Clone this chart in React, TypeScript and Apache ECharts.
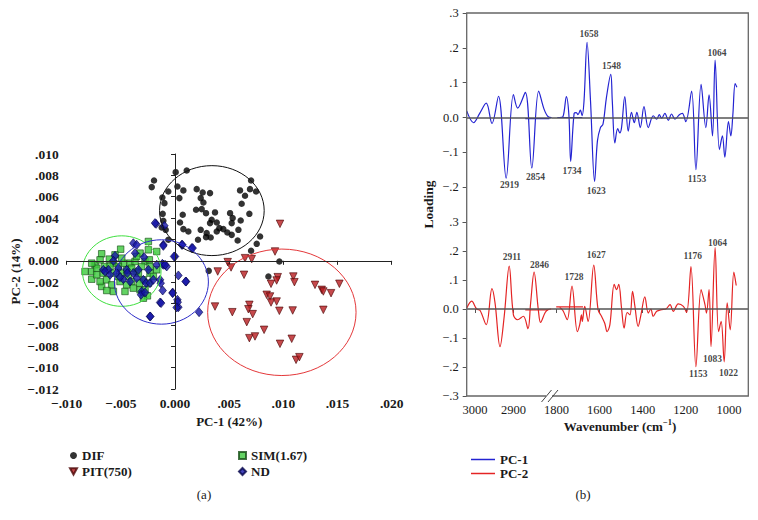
import React, { useEffect, useRef } from 'react';
import * as echarts from 'echarts';

// ---------- Panel (a): PCA scores ----------
const DIF: number[][] = [
  [-0.00215,0.00690],[-0.00194,0.00752],[-0.00117,0.00593],[-0.00098,0.00540],[-0.00062,0.00649],
  [-0.00114,0.00440],[-0.00108,0.00375],[-0.00123,0.00312],[-0.00086,0.00290],[-0.00062,0.00197],
  [0.00006,0.00830],[0.00108,0.00846],[0.00022,0.00696],[0.00077,0.00659],[0.00040,0.00587],
  [0.00200,0.00671],[0.00255,0.00640],[0.00323,0.00634],[0.00237,0.00587],[0.00262,0.00546],
  [0.00194,0.00478],[0.00246,0.00484],[0.00286,0.00446],[0.00369,0.00453],[0.00338,0.00384],
  [0.00323,0.00353],[0.00385,0.00359],[0.00409,0.00306],[0.00446,0.00297],[0.00508,0.00446],
  [0.00532,0.00400],[0.00523,0.00353],[0.00606,0.00378],[0.00600,0.00659],[0.00646,0.00609],
  [0.00692,0.00671],[0.00702,0.00752],[0.00748,0.00649],[0.00615,0.00534],[0.00686,0.00440],
  [0.00585,0.00290],[0.00483,0.00265],[0.00523,0.00243],[0.00578,0.00190],[0.00385,0.00275],
  [0.00292,0.00259],[0.00237,0.00290],[0.00286,0.00222],[0.00071,0.00431],[0.00046,0.00359],
  [0.00077,0.00297],[0.00123,0.00275],[0.00212,0.00197],[0.00329,0.00218],[0.00785,0.00228],
  [0.00754,0.00159],[0.00702,0.00094],[0.00311,-0.00094],[0.00862,-0.00147],[0.00963,-0.00006],
];
const PIT: number[][] = [
  [0.00969,0.00346],[0.00923,0.00087],[0.00646,0.00025],[0.00708,0.00016],[0.00486,-0.00012],
  [0.00517,-0.00062],[0.00394,-0.00100],[0.00637,-0.00131],[0.00948,-0.00153],[0.01092,-0.00147],
  [0.01102,-0.00200],[0.00886,-0.00215],[0.00938,-0.00184],[0.00846,-0.00318],[0.00877,-0.00334],
  [0.00886,-0.00390],[0.00938,-0.00381],[0.00963,-0.00468],[0.01086,-0.00465],[0.01292,-0.00225],
  [0.01354,-0.00272],[0.01369,-0.00287],[0.01440,-0.00303],[0.01517,-0.00215],[0.01369,-0.00459],
  [0.00686,-0.00412],[0.00677,-0.00453],[0.00717,-0.00499],[0.00662,-0.00574],[0.00369,-0.00428],
  [0.00529,-0.00481],[0.00822,-0.00646],[0.00686,-0.00724],[0.00738,-0.00708],[0.00969,-0.00777],
  [0.01077,-0.00730],[0.01117,-0.00927],[0.01148,-0.00902],
];
const SIM: number[][] = [
  [-0.00246,0.00181],[-0.00323,0.00072],[-0.00246,0.00103],[-0.00169,0.00087],[-0.00502,0.00109],
  [-0.00554,0.00056],[-0.00677,0.00066],[-0.00606,0.00016],[-0.00569,-0.00022],[-0.00738,-0.00037],
  [-0.00769,-0.00100],[-0.00831,-0.00100],[-0.00769,-0.00172],[-0.00723,-0.00131],[-0.00662,-0.00115],
  [-0.00631,-0.00178],[-0.00677,-0.00240],[-0.00585,-0.00225],[-0.00569,-0.00287],[-0.00508,-0.00194],
  [-0.00492,-0.00115],[-0.00446,-0.00084],[-0.00415,-0.00022],[-0.00369,-0.00006],[-0.00277,-0.00006],
  [-0.00237,0.00009],[-0.00308,-0.00053],[-0.00360,-0.00100],[-0.00431,-0.00147],[-0.00400,-0.00194],
  [-0.00338,-0.00115],[-0.00292,-0.00178],[-0.00231,-0.00115],[-0.00169,-0.00084],[-0.00200,-0.00147],
  [-0.00246,-0.00209],[-0.00329,-0.00209],[-0.00323,-0.00272],[-0.00277,-0.00272],[-0.00255,-0.00328],
  [-0.00292,-0.00350],[-0.00462,-0.00287],[-0.00631,-0.00278],[-0.00692,-0.00194],[-0.00477,-0.00022],
  [-0.00523,-0.00053],[-0.00723,-0.00069],[-0.00652,-0.00053],[-0.00569,-0.00115],[-0.00446,-0.00225],
  [-0.00385,-0.00256],[-0.00231,-0.00053],[-0.00600,-0.00053],[-0.00692,0.00009],[-0.00354,0.00041],
  [-0.00492,0.00025],[-0.00769,-0.00022],[-0.00400,-0.00069],[-0.00523,-0.00147],
];
const ND: number[][] = [
  [-0.00175,0.00346],[-0.00108,0.00150],[0.00000,0.00041],[0.00062,0.00150],[0.00154,0.00119],
  [-0.00385,0.00165],[-0.00369,0.00072],[-0.00554,0.00047],[-0.00569,0.00000],[-0.00662,-0.00084],
  [-0.00615,-0.00084],[-0.00523,-0.00069],[-0.00446,-0.00084],[-0.00385,-0.00115],[-0.00477,-0.00172],
  [-0.00415,-0.00194],[-0.00354,-0.00162],[-0.00292,-0.00178],[-0.00268,-0.00209],[-0.00308,-0.00287],
  [-0.00231,-0.00209],[-0.00200,-0.00178],[-0.00138,-0.00178],[-0.00108,-0.00037],[-0.00077,-0.00053],
  [-0.00114,-0.00278],[-0.00022,-0.00297],[0.00022,-0.00365],[0.00031,-0.00434],[0.00102,-0.00194],
  [-0.00231,-0.00521],[-0.00138,-0.00390],[-0.00314,-0.00318],[-0.00277,-0.00297],[-0.00440,-0.00115],
  [-0.00538,-0.00115],[-0.00646,-0.00100],[-0.00600,-0.00131],[-0.00508,-0.00153],[-0.00338,-0.00084],
  [-0.00169,-0.00037],[-0.00246,-0.00084],[-0.00185,0.00353],[-0.00098,0.00328],[-0.00108,0.00140],
  [-0.00009,0.00041],[0.00068,0.00150],[0.00163,0.00119],[0.00031,-0.00137],[0.00098,-0.00194],
  [-0.00132,-0.00209],[-0.00022,-0.00303],[0.00025,-0.00387],[0.00015,-0.00437],[-0.00129,-0.00396],
  [-0.00228,-0.00521],[0.00222,-0.00481],[-0.00117,-0.00028],[-0.00092,-0.00037],[-0.00354,0.00150],
  [-0.00286,0.00034],
];
// confidence ellipses: [centre x, centre y, radius x, radius y]
const ELLIPSES: number[][] = [
  [0.0034, 0.0047, 0.00483, 0.00421],
  [0.00986, -0.00482, 0.00685, 0.00592],
  [-0.00492, -0.00096, 0.00363, 0.0033],
  [-0.00126, -0.00198, 0.00434, 0.00395],
];
const ELLIPSE_COLORS = ['#111111', '#e4383a', '#3fe03f', '#2b2bc8'];

// ---------- Panel (b): loadings [wavenumber, loading] ----------
const PC1_LEFT: number[][] = [
  [3022,0.019],[3004,-0.015],[2988,0.012],[2971,0.041],[2956,-0.017],[2939,0.061],[2919,-0.174],
  [2900,0.066],[2889,0.027],[2869,0.072],[2852,-0.145],[2834,0.076],[2820,0.024],[2809,0.002],[2800,0],
];
const PC1_RIGHT: number[][] = [
  [1785,0],[1770,0.002],[1754,0.060],[1742,0.005],[1734,-0.126],[1718,0.012],[1708,0.014],[1700,0.008],
  [1689,0.021],[1681,0.005],[1672,0.048],[1658,0.216],[1642,0.048],[1623,-0.184],[1610,-0.068],
  [1596,-0.029],[1584,-0.019],[1568,0.058],[1548,0.124],[1541,0.048],[1529,-0.073],[1516,-0.032],
  [1506,-0.044],[1498,-0.029],[1483,0.060],[1467,-0.039],[1452,0.015],[1439,-0.015],[1427,0.015],
  [1411,-0.029],[1394,0.031],[1374,-0.029],[1351,0.005],[1335,-0.005],[1323,0.008],[1312,-0.002],
  [1297,0.012],[1281,-0.008],[1266,0.010],[1250,-0.005],[1230,0.008],[1216,0.012],[1200,-0.012],
  [1173,0.076],[1153,-0.150],[1129,0.095],[1107,-0.029],[1092,0.065],[1076,-0.053],[1064,0.165],
  [1044,-0.092],[1030,-0.053],[1019,-0.114],[1002,-0.012],[991,-0.053],[982,0.005],[971,0.097],[963,0.087],
];
const PC1_LEFT_FLAT: number[][] = [[2869,-0.003],[2806,-0.003]];
const PC1_RIGHT_FLAT: number[][] = [[1796,0],[1680,0]];

const PC2_LEFT: number[][] = [
  [3022,0.003],[3009,0.027],[2996,0],[2987,-0.005],[2971,-0.054],[2956,0.070],[2948,0.021],
  [2935,-0.130],[2924,-0.025],[2911,0.148],[2900,-0.020],[2889,-0.037],[2874,-0.025],[2862,-0.068],
  [2855,0.021],[2846,0.127],[2835,-0.002],[2829,-0.046],[2817,-0.012],[2809,-0.002],[2800,0],
];
const PC2_RIGHT: number[][] = [
  [1785,0.005],[1770,-0.005],[1750,-0.037],[1728,0.079],[1703,-0.078],[1692,-0.054],[1684,-0.020],
  [1680,-0.043],[1669,0.009],[1653,-0.043],[1627,0.151],[1607,-0.002],[1591,-0.025],[1576,-0.049],
  [1565,-0.078],[1552,-0.054],[1532,0.085],[1521,0.067],[1511,0.085],[1498,0.003],[1486,-0.066],
  [1472,-0.012],[1459,-0.020],[1447,0.061],[1436,0.009],[1421,-0.060],[1408,-0.020],[1390,0.042],
  [1374,-0.014],[1362,0],[1351,-0.025],[1335,-0.008],[1312,-0.002],[1292,0],[1273,0.015],
  [1258,-0.008],[1235,0.018],[1211,0.009],[1196,-0.012],[1176,0.146],[1153,-0.199],[1129,0.067],
  [1111,0.015],[1104,-0.014],[1092,0.067],[1083,-0.130],[1064,0.212],[1048,-0.078],[1036,-0.043],
  [1022,-0.182],[1008,0.021],[994,-0.072],[977,0.127],[966,0.081],
];
const PC2_LEFT_FLAT: number[][] = [[2869,-0.003],[2809,-0.003]];
const PC2_RIGHT_FLAT: number[][] = [[1801,0.007],[1677,0.007]];

// peak annotations: [text, wavenumber, loading]
const PC1_ANN_LEFT: (string | number)[][] = [['2919',2910,-0.194],['2854',2842,-0.170]];
const PC1_ANN_RIGHT: (string | number)[][] = [
  ['1658',1649,0.240],['1548',1545,0.147],['1064',1055,0.184],['1734',1728,-0.155],['1623',1615,-0.210],['1153',1148,-0.177],
];
const PC2_ANN_LEFT: (string | number)[][] = [['2911',2904,0.181],['2846',2832,0.152]];
const PC2_ANN_RIGHT: (string | number)[][] = [
  ['1728',1718,0.111],['1627',1615,0.185],['1176',1168,0.183],['1064',1053,0.229],['1083',1076,-0.171],['1153',1142,-0.225],['1022',1002,-0.220],
];

const LEFT_TICKS = [3000, 2900];
const RIGHT_TICKS = [1800, 1600, 1400, 1200, 1000];

const FONT = '"Liberation Serif", "Times New Roman", serif';
const BLUE = '#2323d2';
const RED = '#e42424';

const fmtA = (v: number) => {
  const r = Math.round(v * 1000) / 1000;
  if (Math.abs(r) < 1e-9) return '0.000';
  return (r < 0 ? '\u2212' : '') + Math.abs(r).toFixed(3).replace(/^0/, '');
};
const fmtB = (hideMin: boolean) => (v: number) => {
  const r = Math.round(v * 10) / 10;
  if (hideMin && r <= -0.3) return '';
  if (Math.abs(r) < 1e-9) return '0.0';
  return (r < 0 ? '\u2212' : '') + Math.abs(r).toFixed(1).replace(/^0/, '');
};
const fmtWn = (v: number) => String(Math.round(v));

function buildOption(): any {
  const annSeries = (data: (string | number)[][], idx: number) => ({
    type: 'scatter',
    xAxisIndex: idx,
    yAxisIndex: idx,
    symbolSize: 1,
    itemStyle: { color: 'transparent' },
    silent: true,
    z: 5,
    data: data.map((d) => ({ name: d[0], value: [d[1], d[2]] })),
    label: {
      show: true,
      position: 'inside',
      formatter: (p: any) => p.name,
      fontFamily: FONT,
      fontSize: 9.5,
      fontWeight: 'bold',
      color: '#111',
    },
  });
  const zeroLine = {
    silent: true,
    symbol: 'none',
    label: { show: false },
    lineStyle: { color: '#555', width: 1.5, type: 'solid' },
    data: [{ yAxis: 0 }],
  };
  const lineSeries = (name: string, data: number[][], idx: number, color: string, withZero: boolean) => ({
    type: 'line',
    name,
    xAxisIndex: idx,
    yAxisIndex: idx,
    data,
    smooth: 0.35,
    symbol: 'none',
    showSymbol: false,
    clip: true,
    lineStyle: { color, width: 1.2 },
    itemStyle: { color },
    z: 3,
    ...(withZero ? { markLine: zeroLine } : {}),
  });

  const hiddenAxis = {
    axisLine: { show: false },
    axisTick: { show: false },
    axisLabel: { show: false },
    splitLine: { show: false },
  };

  const scatterStyle = (color: string, border: string) => ({ color, borderColor: border, borderWidth: 0.8 });

  return {
    animation: false,
    textStyle: { fontFamily: FONT },
    grid: [
      { left: 66.7, top: 154, width: 325, height: 235 },
      { left: 466.7, top: 13, width: 85, height: 209 },
      { left: 551.7, top: 13, width: 196.6, height: 209 },
      { left: 466.7, top: 222, width: 85, height: 174 },
      { left: 551.7, top: 222, width: 196.6, height: 174 },
    ],
    xAxis: [
      {
        gridIndex: 0, type: 'value', min: -0.01, max: 0.02, interval: 0.005,
        axisLine: { show: true, lineStyle: { color: '#222', width: 1 } },
        axisTick: { show: true, inside: false, length: 4, lineStyle: { color: '#222' } },
        axisLabel: { formatter: fmtA, fontFamily: FONT, fontSize: 13.5, fontWeight: 'bold', color: '#1a1a1a', margin: 7 },
        splitLine: { show: false },
        name: 'PC-1 (42%)', nameLocation: 'middle', nameGap: 26,
        nameTextStyle: { fontFamily: FONT, fontSize: 13, fontWeight: 'bold', color: '#1a1a1a' },
      },
      { gridIndex: 1, type: 'value', inverse: true, min: 2800, max: 3022, ...hiddenAxis },
      { gridIndex: 2, type: 'value', inverse: true, min: 910, max: 1822, ...hiddenAxis },
      {
        gridIndex: 3, type: 'value', inverse: true, min: 2800, max: 3022,
        axisLine: { show: false },
        axisTick: { show: true, length: 4, customValues: LEFT_TICKS, lineStyle: { color: '#555' } },
        axisLabel: { customValues: LEFT_TICKS, formatter: fmtWn, fontFamily: FONT, fontSize: 12.5, color: '#1a1a1a', margin: 7 },
        splitLine: { show: false },
      },
      {
        gridIndex: 4, type: 'value', inverse: true, min: 910, max: 1822,
        axisLine: { show: false },
        axisTick: { show: true, length: 4, customValues: RIGHT_TICKS, lineStyle: { color: '#555' } },
        axisLabel: { customValues: RIGHT_TICKS, formatter: fmtWn, fontFamily: FONT, fontSize: 12.5, color: '#1a1a1a', margin: 7 },
        splitLine: { show: false },
      },
    ],
    yAxis: [
      {
        gridIndex: 0, type: 'value', min: -0.012, max: 0.01, interval: 0.002,
        axisLine: { show: true, lineStyle: { color: '#222', width: 1 } },
        axisTick: { show: true, inside: false, length: 4, lineStyle: { color: '#222' } },
        axisLabel: { formatter: fmtA, fontFamily: FONT, fontSize: 13.5, fontWeight: 'bold', color: '#1a1a1a', margin: 8 },
        splitLine: { show: false },
        name: 'PC-2 (14%)', nameLocation: 'middle', nameGap: 45,
        nameTextStyle: { fontFamily: FONT, fontSize: 13, fontWeight: 'bold', color: '#1a1a1a' },
      },
      {
        gridIndex: 1, type: 'value', min: -0.3, max: 0.3, interval: 0.1,
        axisLine: { show: false },
        axisTick: { show: true, length: 4, lineStyle: { color: '#555' } },
        axisLabel: { formatter: fmtB(true), fontFamily: FONT, fontSize: 12.5, color: '#1a1a1a', margin: 8 },
        splitLine: { show: false },
      },
      { gridIndex: 2, type: 'value', min: -0.3, max: 0.3, interval: 0.1, ...hiddenAxis },
      {
        gridIndex: 3, type: 'value', min: -0.3, max: 0.3, interval: 0.1,
        axisLine: { show: false },
        axisTick: { show: true, length: 4, lineStyle: { color: '#555' } },
        axisLabel: { formatter: fmtB(false), fontFamily: FONT, fontSize: 12.5, color: '#1a1a1a', margin: 8 },
        splitLine: { show: false },
      },
      { gridIndex: 4, type: 'value', min: -0.3, max: 0.3, interval: 0.1, ...hiddenAxis },
    ],
    legend: [
      {
        data: ['DIF', { name: 'PIT(750)', icon: 'path://M0,0L10,0L5,9Z' }],
        orient: 'vertical', left: 64, top: 444, itemWidth: 7, itemHeight: 7, itemGap: 3,
        textStyle: { fontFamily: FONT, fontSize: 13, fontWeight: 'bold', color: '#1a1a1a' },
        selectedMode: false,
      },
      {
        data: ['SIM(1.67)', 'ND'],
        orient: 'vertical', left: 233, top: 444, itemWidth: 7, itemHeight: 7, itemGap: 3,
        textStyle: { fontFamily: FONT, fontSize: 13, fontWeight: 'bold', color: '#1a1a1a' },
        selectedMode: false,
      },
      {
        data: [{ name: 'PC-1', icon: 'rect' }, { name: 'PC-2', icon: 'rect' }],
        orient: 'vertical', left: 466, top: 448, itemWidth: 24, itemHeight: 1.5, itemGap: 1,
        textStyle: { fontFamily: FONT, fontSize: 13, fontWeight: 'bold', color: '#1a1a1a' },
        selectedMode: false,
      },
    ],
    series: [
      {
        type: 'custom',
        name: 'ellipses',
        xAxisIndex: 0,
        yAxisIndex: 0,
        data: ELLIPSES,
        encode: { x: 0, y: 1 },
        silent: true,
        z: 4,
        renderItem: (params: any, api: any) => {
          const c = api.coord([api.value(0), api.value(1)]);
          const s = api.size([api.value(2), api.value(3)]);
          return {
            type: 'ellipse',
            shape: { cx: c[0], cy: c[1], rx: s[0], ry: s[1] },
            style: { fill: 'none', stroke: ELLIPSE_COLORS[params.dataIndex], lineWidth: 1 },
          };
        },
      },
      {
        type: 'scatter', name: 'DIF', xAxisIndex: 0, yAxisIndex: 0, data: DIF,
        symbol: 'circle', symbolSize: 6.5, itemStyle: { color: '#000' }, z: 2,
        markLine: {
          silent: true, symbol: 'none', label: { show: false },
          lineStyle: { color: '#222', width: 1, type: 'solid' },
          data: [
            [{ coord: [-0.01, 0] }, { coord: [0.0189, 0] }],
            [{ coord: [0, -0.012] }, { coord: [0, 0.01] }],
          ],
        },
      },
      {
        type: 'scatter', name: 'PIT(750)', xAxisIndex: 0, yAxisIndex: 0, data: PIT,
        symbol: 'triangle', symbolRotate: 180, symbolSize: 7.5, itemStyle: scatterStyle('#b81c1f', '#4a0505'), z: 2,
      },
      {
        type: 'scatter', name: 'SIM(1.67)', xAxisIndex: 0, yAxisIndex: 0, data: SIM,
        symbol: 'rect', symbolSize: 6.5, itemStyle: scatterStyle('#3cc83c', '#174d17'), z: 2,
      },
      {
        type: 'scatter', name: 'ND', xAxisIndex: 0, yAxisIndex: 0, data: ND,
        symbol: 'diamond', symbolSize: [7.5, 9], itemStyle: scatterStyle('#1414a8', '#05054a'), z: 3,
      },
      lineSeries('PC-1', PC1_LEFT, 1, BLUE, true),
      lineSeries('PC-1', PC1_LEFT_FLAT, 1, BLUE, false),
      lineSeries('PC-1', PC1_RIGHT, 2, BLUE, true),
      lineSeries('PC-1', PC1_RIGHT_FLAT, 2, BLUE, false),
      lineSeries('PC-2', PC2_LEFT, 3, RED, true),
      lineSeries('PC-2', PC2_LEFT_FLAT, 3, RED, false),
      lineSeries('PC-2', PC2_RIGHT, 4, RED, true),
      lineSeries('PC-2', PC2_RIGHT_FLAT, 4, RED, false),
      annSeries(PC1_ANN_LEFT, 1),
      annSeries(PC1_ANN_RIGHT, 2),
      annSeries(PC2_ANN_LEFT, 3),
      annSeries(PC2_ANN_RIGHT, 4),
    ],
    graphic: [
      {
        type: 'rect', silent: true, z: 10,
        shape: { x: 466.7, y: 13, width: 281.6, height: 383 },
        style: { fill: 'none', stroke: '#666', lineWidth: 1.3 },
      },
      { type: 'rect', silent: true, z: 11, shape: { x: 546, y: 393, width: 6, height: 6 }, style: { fill: '#fff' } },
      { type: 'line', silent: true, z: 12, shape: { x1: 541.5, y1: 402, x2: 551.5, y2: 390 }, style: { stroke: '#444', lineWidth: 1 } },
      { type: 'line', silent: true, z: 12, shape: { x1: 548, y1: 402, x2: 558, y2: 390 }, style: { stroke: '#444', lineWidth: 1 } },
      {
        type: 'text', silent: true, x: 428, y: 204.5, rotation: Math.PI / 2,
        style: { text: 'Loading', fontFamily: FONT, fontSize: 13.5, fontWeight: 'bold', fill: '#1a1a1a', textAlign: 'center', textVerticalAlign: 'middle' },
      },
      {
        type: 'text', silent: true, x: 620, y: 425,
        style: {
          text: '{a|Wavenumber (cm}{s|\u22121}{a|)}',
          textAlign: 'center', textVerticalAlign: 'middle',
          rich: {
            a: { fontFamily: FONT, fontSize: 13, fontWeight: 'bold', fill: '#1a1a1a', verticalAlign: 'bottom' },
            s: { fontFamily: FONT, fontSize: 8.5, fontWeight: 'bold', fill: '#1a1a1a', verticalAlign: 'top', padding: [0, 0, 6, 0] },
          },
        },
      },
      {
        type: 'text', silent: true, x: 204, y: 494,
        style: { text: '(a)', fontFamily: FONT, fontSize: 13, fill: '#1a1a1a', textAlign: 'center', textVerticalAlign: 'middle' },
      },
      {
        type: 'text', silent: true, x: 583, y: 494,
        style: { text: '(b)', fontFamily: FONT, fontSize: 13, fill: '#1a1a1a', textAlign: 'center', textVerticalAlign: 'middle' },
      },
    ],
  };
}

export default function App() {
  const ref = useRef<HTMLDivElement>(null);
  useEffect(() => {
    document.body.style.margin = '0';
    const chart = echarts.init(ref.current as HTMLDivElement, null, { renderer: 'svg' });
    chart.setOption(buildOption());
    return () => chart.dispose();
  }, []);
  return <div ref={ref} style={{ width: 758, height: 520, background: '#fff' }} />;
}
